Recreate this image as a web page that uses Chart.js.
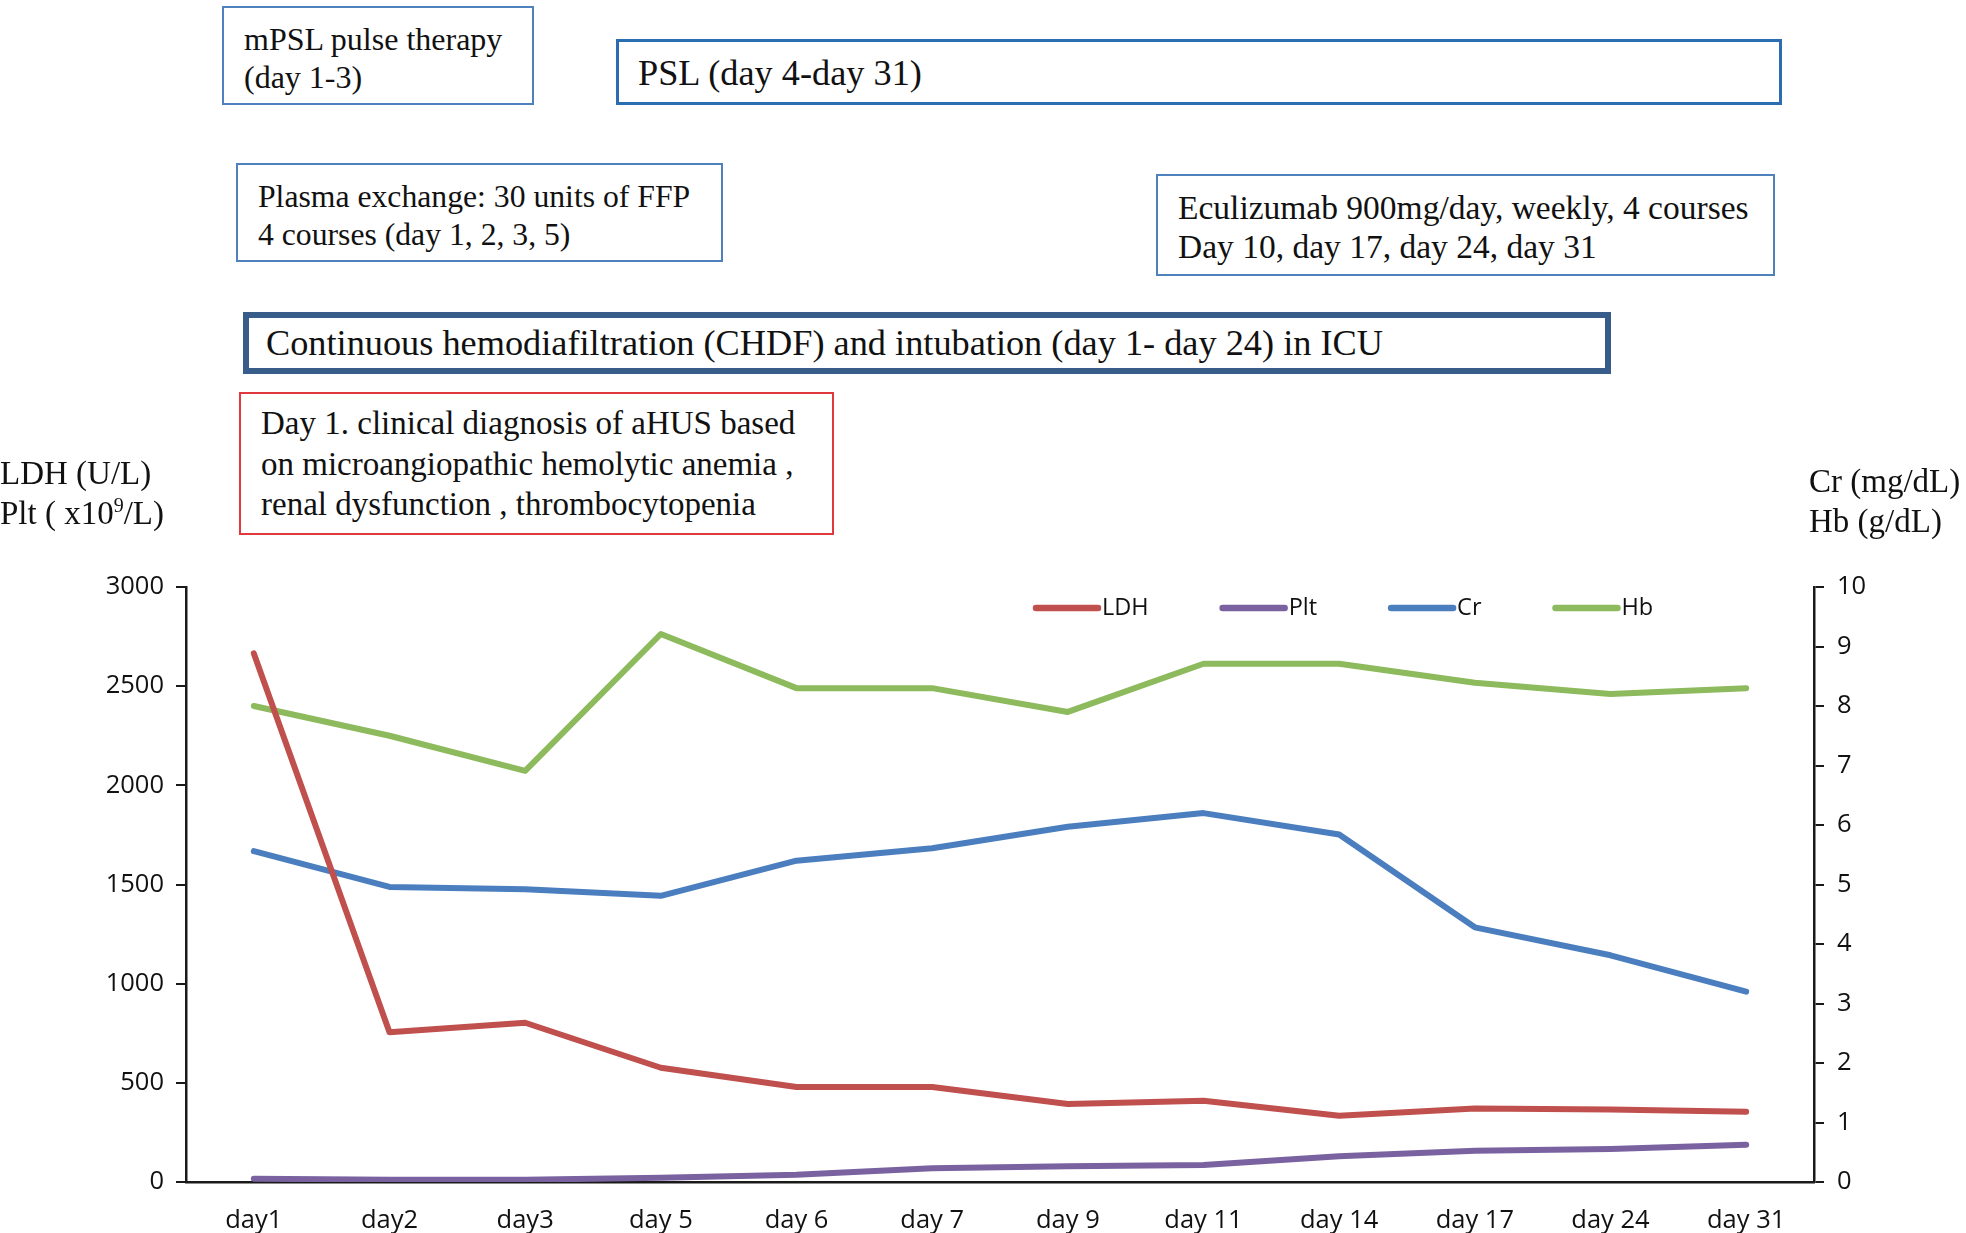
<!DOCTYPE html>
<html>
<head>
<meta charset="utf-8">
<script src="https://cdn.jsdelivr.net/npm/chart.js@4.4.1/dist/chart.umd.min.js"></script>
<style>
    body { margin: 0; background: #fff; width: 1966px; height: 1233px; overflow: hidden; position: relative; }
    #chart { position: absolute; left: 0; top: 0; }
    .box {
        position: absolute; box-sizing: border-box; background: #fff;
        font-family: "Liberation Serif", "Times New Roman", serif; color: #111;
        white-space: nowrap;
    }
    .axis-title {
        position: absolute; font-family: "Liberation Serif", "Times New Roman", serif;
        font-size: 33px; line-height: 40px; color: #111; white-space: nowrap;
    }
    .axis-title sup { font-size: 20px; vertical-align: 12px; line-height: 0; }
</style>
</head>
<body>
<canvas id="chart" width="1966" height="1233"></canvas>

<div class="box" style="left:222px;top:6px;width:312px;height:99px;border:2.5px solid #4f81bd;padding:13px 0 0 20px;font-size:32px;line-height:37.5px;">mPSL pulse therapy<br>(day 1-3)</div>
<div class="box" style="left:616px;top:39px;width:1166px;height:66px;border:3px solid #2a6db0;padding:0 0 0 19px;font-size:36.3px;line-height:62px;">PSL (day 4-day 31)</div>
<div class="box" style="left:236px;top:163px;width:487px;height:99px;border:2.5px solid #4f81bd;padding:13px 0 0 20px;font-size:31.7px;line-height:37.6px;">Plasma exchange: 30 units of FFP<br>4 courses (day 1, 2, 3, 5)</div>
<div class="box" style="left:1156px;top:174px;width:619px;height:102px;border:2.5px solid #4f81bd;padding:12px 0 0 20px;font-size:33.5px;line-height:39px;">Eculizumab 900mg/day, weekly, 4 courses<br>Day 10, day 17, day 24, day 31</div>
<div class="box" style="left:243px;top:312px;width:1368px;height:62px;border:6px solid #385d8a;padding:0 0 0 17px;font-size:36.3px;line-height:50px;">Continuous hemodiafiltration (CHDF) and intubation (day 1- day 24) in ICU</div>
<div class="box" style="left:239px;top:392px;width:595px;height:143px;border:2.5px solid #e0383c;padding:9px 0 0 20px;font-size:33px;line-height:40.7px;">Day 1. clinical diagnosis of aHUS based<br>on microangiopathic hemolytic anemia ,<br>renal dysfunction , thrombocytopenia</div>

<div class="axis-title" style="left:0px;top:453px;">LDH (U/L)<br>Plt ( x10<sup>9</sup>/L)</div>
<div class="axis-title" style="left:1809px;top:461px;">Cr (mg/dL)<br>Hb (g/dL)</div>

<script>
// x categories
const days = ['day1', 'day2', 'day3', 'day 5', 'day 6', 'day 7', 'day 9', 'day 11', 'day 14', 'day 17', 'day 24', 'day 31'];

// left axis series
const ldh = [2665, 755, 803, 576, 479, 479, 393, 410, 334, 371, 365, 354];
const plt = [17, 11, 11, 22, 37, 69, 80, 86, 130, 158, 166, 188];

// right axis series
const cr = [5.56, 4.96, 4.92, 4.81, 5.40, 5.61, 5.97, 6.20, 5.84, 4.28, 3.81, 3.20];
const hb = [8.0, 7.5, 6.91, 9.21, 8.3, 8.3, 7.9, 8.71, 8.71, 8.39, 8.2, 8.3];

const colors = {
    ldh: '#c0504d',
    plt: '#7a62a1',
    cr: '#4a7ebf',
    hb: '#8cba5c'
};

const tickFont = { family: '"Open Sans", "Liberation Sans", sans-serif', size: 25.5 };

// legend drawn inside the plot, top right, with line swatches
const lineLegend = {
    id: 'lineLegend',
    afterDraw(chart) {
        const ctx = chart.ctx;
        let x = 1036;
        const y = 608;
        ctx.save();
        ctx.font = '23.5px "Open Sans", "Liberation Sans", sans-serif';
        ctx.textBaseline = 'middle';
        chart.data.datasets.forEach(ds => {
            ctx.strokeStyle = ds.borderColor;
            ctx.lineWidth = 6.5;
            ctx.lineCap = 'round';
            ctx.beginPath();
            ctx.moveTo(x, y);
            ctx.lineTo(x + 62, y);
            ctx.stroke();
            ctx.fillStyle = '#111';
            ctx.fillText(ds.label, x + 66, y);
            x += 66 + ctx.measureText(ds.label).width + 74;
        });
        ctx.restore();
    }
};

function makeLine(label, data, color, axis) {
    return {
        label: label,
        data: data,
        yAxisID: axis,
        borderColor: color,
        backgroundColor: color,
        borderWidth: 6,
        pointRadius: 0,
        tension: 0,
        borderCapStyle: 'round',
        borderJoinStyle: 'round'
    };
}

new Chart(document.getElementById('chart'), {
    type: 'line',
    data: {
        labels: days,
        datasets: [
            makeLine('LDH', ldh, colors.ldh, 'y'),
            makeLine('Plt', plt, colors.plt, 'y'),
            makeLine('Cr', cr, colors.cr, 'y1'),
            makeLine('Hb', hb, colors.hb, 'y1')
        ]
    },
    options: {
        responsive: false,
        animation: false,
        layout: { padding: { top: 587, left: 0, right: 0, bottom: 0 } },
        plugins: {
            legend: { display: false },
            tooltip: { enabled: false }
        },
        scales: {
            x: {
                offset: true,
                grid: { drawOnChartArea: false, drawTicks: false },
                border: { color: '#1a1a1a', width: 2.5 },
                ticks: { color: '#111', font: tickFont, padding: 23, maxRotation: 0 },
                afterFit(scale) { scale.height = 51; }
            },
            y: {
                position: 'left',
                min: 0,
                max: 3000,
                grid: { drawOnChartArea: false, tickLength: 10, color: '#1a1a1a', lineWidth: 2 },
                border: { color: '#1a1a1a', width: 2.5 },
                ticks: { stepSize: 500, color: '#111', font: tickFont, padding: 12, callback: v => String(v) },
                afterFit(scale) { scale.width = 186; }
            },
            y1: {
                position: 'right',
                min: 0,
                max: 10,
                grid: { drawOnChartArea: false, tickLength: 10, color: '#1a1a1a', lineWidth: 2 },
                border: { color: '#1a1a1a', width: 2.5 },
                ticks: { stepSize: 1, color: '#111', font: tickFont, padding: 13, callback: v => String(v) },
                afterFit(scale) { scale.width = 152; }
            }
        }
    },
    plugins: [lineLegend]
});
</script>
</body>
</html>
